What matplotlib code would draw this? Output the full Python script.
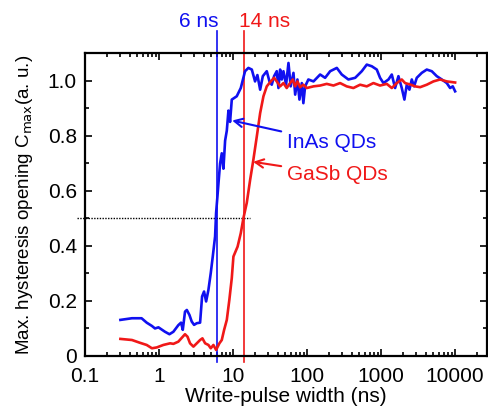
import matplotlib.pyplot as plt
import matplotlib.ticker as ticker
import numpy as np

plt.rcParams['font.family'] = ['Liberation Sans', 'DejaVu Sans']

# InAs QDs (blue)
inas_x = [0.30, 0.43, 0.58, 0.68, 0.80, 0.88, 0.98, 1.2, 1.38, 1.56, 1.82, 1.98, 2.09,
          2.24, 2.37, 2.57, 2.76, 2.97, 3.23, 3.58, 3.81, 4.05, 4.32, 4.64, 4.99, 5.31,
          5.71, 5.89, 6.14, 6.40, 6.67, 7.03, 7.4, 7.8, 8.22, 8.65, 9.1, 9.6, 11.2, 12.7,
          14.5, 16.1, 17.9, 19.8, 21.3, 23.2, 25.2, 28.5, 31, 33.3, 35.8, 38.9, 41, 43.2,
          45.5, 47.9, 52, 56, 60, 65.4, 69, 74, 78.8, 84.8, 89, 94, 104, 122, 150, 175,
          205, 252, 294, 361, 446, 548, 640, 748, 874, 968, 1076, 1257, 1394, 1546, 1714,
          1901, 2064, 2222, 2414, 2596, 2790, 3032, 3541, 4139, 4838, 5650, 6605, 7713,
          8553, 9290, 10000]
inas_y = [0.131, 0.137, 0.137, 0.121, 0.109, 0.100, 0.104, 0.088, 0.079, 0.088, 0.112,
          0.121, 0.095, 0.161, 0.167, 0.149, 0.125, 0.113, 0.119, 0.121, 0.216, 0.234,
          0.198, 0.240, 0.301, 0.361, 0.434, 0.519, 0.579, 0.640, 0.699, 0.736, 0.680,
          0.782, 0.818, 0.891, 0.850, 0.931, 0.943, 0.973, 1.034, 1.046, 1.040, 0.997,
          1.020, 0.967, 1.016, 1.034, 0.997, 0.985, 1.016, 1.034, 0.973, 1.040, 1.004,
          1.034, 0.985, 1.064, 0.979, 1.028, 0.949, 1.004, 0.931, 0.991, 0.918, 0.979,
          1.004, 0.997, 1.022, 1.010, 1.034, 1.046, 1.022, 1.004, 1.010, 1.034, 1.058,
          1.052, 1.040, 1.010, 0.991, 1.004, 1.022, 0.973, 1.016, 0.973, 0.931, 0.985,
          0.967, 1.004, 0.979, 1.010, 1.028, 1.040, 1.034, 1.016, 1.004, 0.991, 0.973,
          0.979, 0.961]

# GaSb QDs (red)
gasb_x = [0.30, 0.43, 0.55, 0.68, 0.80, 0.93, 1.14, 1.41, 1.56, 1.82, 2.09, 2.24, 2.42,
          2.62, 2.91, 3.23, 3.58, 3.85, 4.19, 4.64, 4.99, 5.42, 5.89, 6.53, 7.03, 7.55,
          8.22, 8.9, 9.6, 10.1, 11.5, 12.7, 13.8, 15.3, 17, 18.8, 20.9, 23.2, 25.7, 28.5,
          32.3, 35.8, 38.9, 43.2, 47.9, 53, 58.9, 64, 69, 74, 80.4, 89, 99, 122, 150, 184,
          227, 279, 343, 422, 520, 640, 787, 968, 1193, 1394, 1629, 1901, 2108, 2520,
          2880, 3366, 4139, 5093, 6266, 7713, 10000]
gasb_y = [0.062, 0.058, 0.048, 0.040, 0.028, 0.031, 0.040, 0.046, 0.044, 0.052, 0.070,
          0.079, 0.070, 0.046, 0.034, 0.046, 0.058, 0.064, 0.046, 0.040, 0.028, 0.040,
          0.022, 0.046, 0.058, 0.094, 0.131, 0.204, 0.283, 0.361, 0.397, 0.446, 0.501,
          0.556, 0.640, 0.713, 0.797, 0.882, 0.943, 0.979, 0.997, 1.010, 0.997, 0.979,
          0.991, 0.973, 0.991, 1.004, 0.979, 0.997, 0.976, 0.985, 0.973, 0.979, 0.982,
          0.988, 0.982, 0.991, 0.979, 0.973, 0.985, 0.979, 0.991, 0.982, 0.988, 0.973,
          0.991, 1.004, 0.991, 0.985, 0.979, 0.976, 0.985, 0.997, 1.004, 0.997, 0.993]

t_inas = 6
t_gasb = 14
y_ticks = [0, 0.2, 0.4, 0.6, 0.8, 1.0]
y_tick_labels = ['0', '0.2', '0.4', '0.6', '0.8', '1.0']
x_ticks = [0.1, 1, 10, 100, 1000, 10000]
x_tick_labels = ['0.1', '1', '10', '100', '1000', '10000']

blue = '#1010f0'
red = '#f01818'

fig = plt.figure(figsize=(4.89, 4.08), dpi=100)
ax = fig.add_axes([0.174, 0.1275, 0.822, 0.7425])

ax.plot(inas_x, inas_y, color=blue, lw=1.9, zorder=3)
ax.plot(gasb_x, gasb_y, color=red, lw=1.9, zorder=3)

ax.axvline(t_inas, ymin=-0.02, ymax=1.072, color=blue, lw=1.2, clip_on=False)
ax.axvline(t_gasb, ymin=-0.02, ymax=1.072, color=red, lw=1.2, clip_on=False)
ax.plot([0.078, 17], [0.5, 0.5], color='black', lw=1, ls=(0, (1, 1)), clip_on=False)

ax.text(6.3, 1.215, '6 ns', color=blue, fontsize=15, ha='right', va='center')
ax.text(12, 1.215, '14 ns', color=red, fontsize=15, ha='left', va='center')

ax.annotate('InAs QDs', xy=(9.7, 0.855), xytext=(53, 0.775), color=blue, fontsize=15,
            va='center', ha='left',
            arrowprops=dict(arrowstyle='->', color=blue, lw=1.5, shrinkA=2, shrinkB=0))
ax.annotate('GaSb QDs', xy=(18.6, 0.705), xytext=(53, 0.658), color=red, fontsize=15,
            va='center', ha='left',
            arrowprops=dict(arrowstyle='->', color=red, lw=1.5, shrinkA=2, shrinkB=0))

ax.set_xscale('log')
ax.set_xlim(0.1, 27000)
ax.set_ylim(0, 1.1)
ax.set_xticks(x_ticks)
ax.set_xticklabels(x_tick_labels)
ax.xaxis.set_minor_locator(ticker.LogLocator(base=10, subs=np.arange(2, 10)))
ax.xaxis.set_minor_formatter(ticker.NullFormatter())
ax.set_yticks(y_ticks)
ax.set_yticklabels(y_tick_labels)
ax.yaxis.set_minor_locator(ticker.MultipleLocator(0.1))

ax.tick_params(which='both', direction='in', top=True, right=True, labelsize=15, width=1.2)
ax.tick_params(which='major', length=5)
ax.tick_params(which='minor', length=3)
ax.tick_params(axis='x', which='major', pad=8)
ax.tick_params(axis='y', which='major', pad=6)
for s in ax.spines.values():
    s.set_linewidth(1.6)

ax.set_xlabel('Write-pulse width (ns)', fontsize=15, labelpad=1)
ax.set_ylabel('Max. hysteresis opening C$_{\\mathrm{max}}$(a. u.)', fontsize=13.5, labelpad=9)

fig.savefig('out.png', dpi=100)
